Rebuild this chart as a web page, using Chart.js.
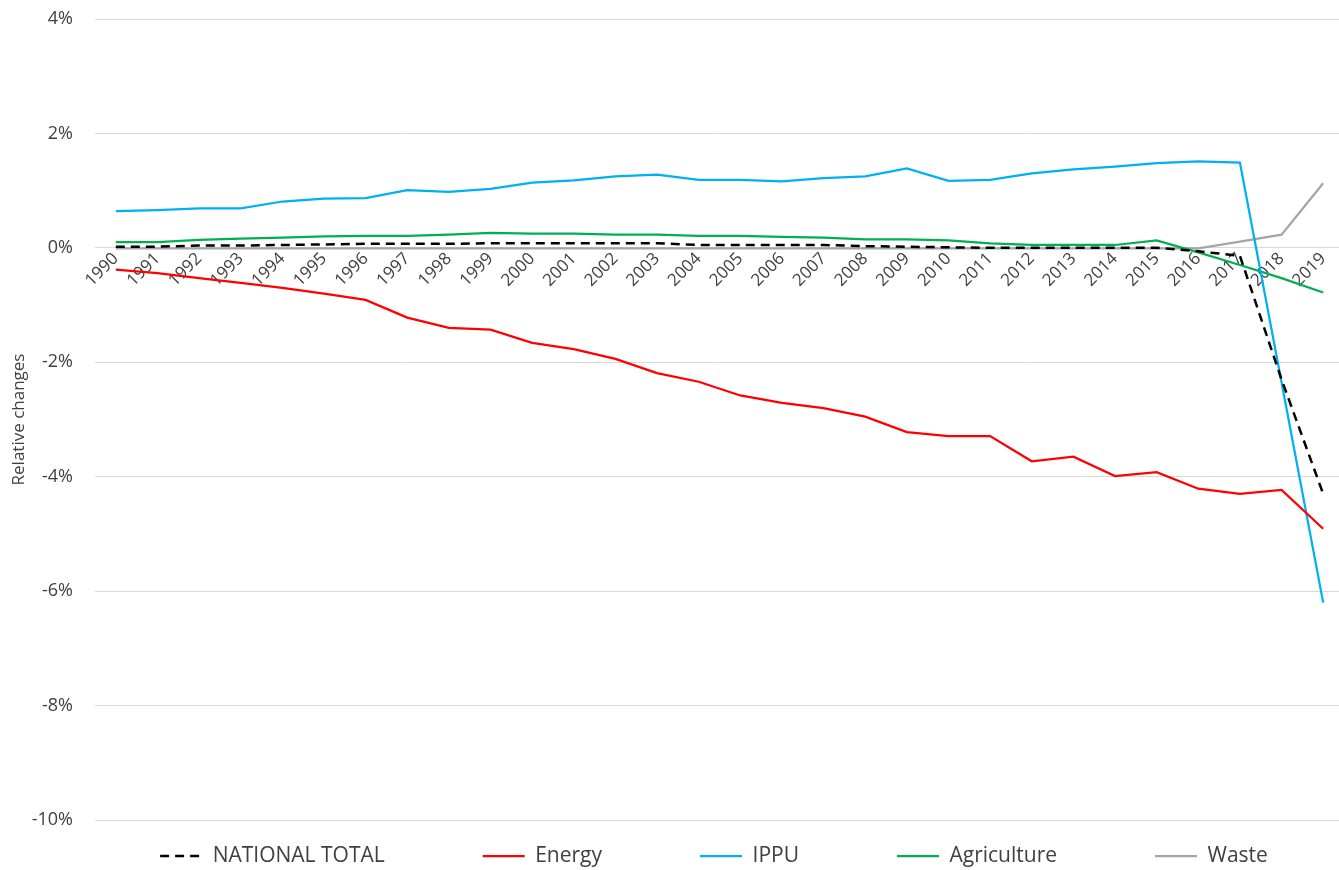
<!DOCTYPE html>
<html>
<head>
<meta charset="utf-8">
<script src="https://cdn.jsdelivr.net/npm/chart.js@4.4.1/dist/chart.umd.min.js"></script>
<style>
  html, body { margin: 0; padding: 0; background: #ffffff; overflow: hidden; }
  #wrap { width: 1344px; height: 870px; position: relative; }
</style>
</head>
<body>
<div id="wrap"><canvas id="c"></canvas></div>
<script>
const years = ['1990','1991','1992','1993','1994','1995','1996','1997','1998','1999','2000','2001','2002','2003','2004','2005','2006','2007','2008','2009','2010','2011','2012','2013','2014','2015','2016','2017','2018','2019'];

const nationalTotal = [0.02,0.02,0.04,0.04,0.05,0.06,0.07,0.07,0.07,0.08,0.08,0.08,0.08,0.08,0.05,0.05,0.05,0.05,0.03,0.02,0.01,0.0,0.0,0.0,0.0,0.0,-0.06,-0.14,-2.3,-4.3];
const energy = [-0.38,-0.44,-0.53,-0.61,-0.70,-0.80,-0.91,-1.22,-1.40,-1.43,-1.66,-1.77,-1.94,-2.19,-2.34,-2.58,-2.71,-2.80,-2.95,-3.22,-3.29,-3.29,-3.73,-3.65,-3.99,-3.92,-4.21,-4.30,-4.23,-4.91];
const ippu = [0.64,0.66,0.69,0.69,0.81,0.86,0.87,1.01,0.98,1.03,1.14,1.18,1.25,1.28,1.19,1.19,1.16,1.22,1.25,1.39,1.17,1.19,1.30,1.37,1.42,1.48,1.51,1.49,-2.35,-6.2];
const agriculture = [0.10,0.10,0.14,0.16,0.18,0.20,0.21,0.21,0.23,0.26,0.25,0.25,0.23,0.23,0.21,0.21,0.19,0.18,0.15,0.15,0.13,0.08,0.05,0.05,0.05,0.13,-0.08,-0.30,-0.53,-0.78];
const waste = [-0.01,-0.01,-0.01,-0.01,-0.01,-0.01,-0.01,-0.01,-0.01,-0.01,-0.01,-0.01,-0.01,-0.01,-0.01,-0.01,-0.01,-0.01,-0.01,-0.01,-0.01,-0.01,-0.01,-0.01,-0.01,-0.01,-0.01,0.11,0.23,1.13];

const seriesNames = ['NATIONAL TOTAL','Energy','IPPU','Agriculture','Waste'];
const yTicks = [4,2,0,-2,-4,-6,-8,-10];

const FONT = "'Open Sans', 'Liberation Sans', sans-serif";
const LEGEND_PAD = 98;
const LEGEND_FONT = 21;

const legendShift = {
  id: 'legendShift',
  afterLayout(chart) {
    const lg = chart.legend;
    if (!lg) return;
    lg.top = 856 - LEGEND_PAD - LEGEND_FONT / 2;
    lg.bottom = chart.height;
    lg.height = lg.bottom - lg.top;
    lg.left += 42;
    lg.right += 42;
  }
};

new Chart(document.getElementById('c'), {
  type: 'line',
  data: {
    labels: years,
    datasets: [
      { label: seriesNames[0], data: nationalTotal, borderColor: '#000000', backgroundColor: '#000000', borderWidth: 2.5, borderDash: [9, 6], pointRadius: 0, tension: 0 },
      { label: seriesNames[1], data: energy, borderColor: '#FF0000', backgroundColor: '#FF0000', borderWidth: 2.25, pointRadius: 0, tension: 0 },
      { label: seriesNames[2], data: ippu, borderColor: '#00B0F0', backgroundColor: '#00B0F0', borderWidth: 2.25, pointRadius: 0, tension: 0 },
      { label: seriesNames[3], data: agriculture, borderColor: '#00B050', backgroundColor: '#00B050', borderWidth: 2.25, pointRadius: 0, tension: 0 },
      { label: seriesNames[4], data: waste, borderColor: '#A5A5A5', backgroundColor: '#A5A5A5', borderWidth: 2.25, pointRadius: 0, tension: 0 }
    ]
  },
  options: {
    responsive: true,
    maintainAspectRatio: false,
    animation: false,
    layout: { padding: { top: 19, right: 0, bottom: 0, left: 0 } },
    plugins: {
      tooltip: { enabled: false },
      legend: {
        position: 'bottom',
        maxHeight: 50,
        labels: {
          usePointStyle: false,
          boxWidth: 42,
          boxHeight: 0,
          padding: LEGEND_PAD,
          color: '#404040',
          font: { family: FONT, size: LEGEND_FONT }
        }
      }
    },
    scales: {
      x: {
        type: 'category',
        position: { y: 0 },
        offset: true,
        grid: { display: false, drawTicks: false },
        border: { display: false },
        ticks: {
          autoSkip: false,
          maxRotation: 45,
          minRotation: 45,
          padding: 1,
          color: '#404040',
          font: { family: FONT, size: 17 }
        }
      },
      y: {
        min: -10,
        max: 4,
        afterFit(scale) { scale.width = 95; },
        afterBuildTicks(scale) { scale.ticks = yTicks.map(v => ({ value: v })); },
        grid: { color: '#d9d9d9', lineWidth: 1, drawTicks: true, tickLength: 22, tickColor: 'rgba(0,0,0,0)' },
        border: { display: false },
        ticks: {
          padding: 0,
          color: '#404040',
          font: { family: FONT, size: 18 },
          callback: v => v + '%'
        },
        title: {
          display: true,
          text: 'Relative changes',
          color: '#404040',
          font: { family: FONT, size: 17 },
          padding: { top: 9, bottom: 0 }
        }
      }
    }
  },
  plugins: [legendShift]
});
</script>
</body>
</html>
